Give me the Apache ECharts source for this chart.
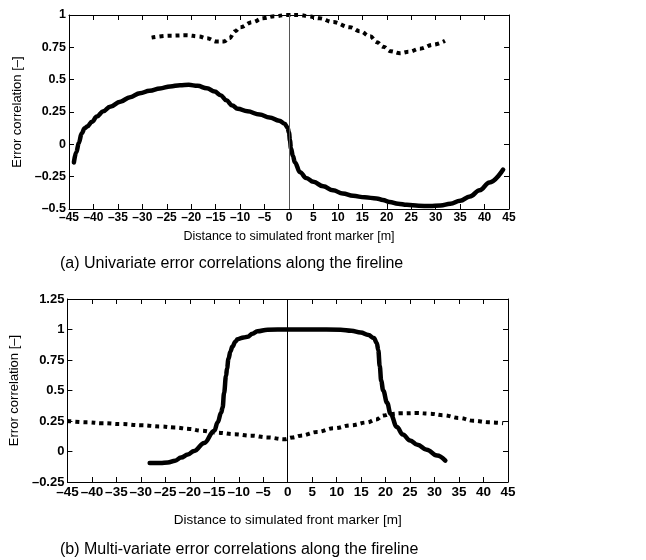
<!DOCTYPE html>
<html>
<head>
<meta charset="utf-8">
<script src="https://cdn.jsdelivr.net/npm/echarts@6/dist/echarts.min.js"></script>
<style>
html,body{margin:0;padding:0;background:#fff;}
#c{width:646px;height:560px;}
</style>
</head>
<body>
<div id="c"></div>
<script>
// ---- Data ----
var xTicksMin = -45, xTicksMax = 45, xTickStep = 5;
var yTopMin = -0.5, yTopMax = 1, yTopStep = 0.25;
var yBotMin = -0.25, yBotMax = 1.25, yBotStep = 0.25;

var captionA = '(a) Univariate error correlations along the fireline';
var captionB = '(b) Multi-variate error correlations along the fireline';
var xName = 'Distance to simulated front marker [m]';
var yName = 'Error correlation [\u2013]';

// (a) solid curve
var uniSolid = [[-44,-0.14],[-43.5,-0.06],[-43,0.01],[-42.4,0.085],[-41.8,0.125],[-41.2,0.14],[-40.3,0.175],[-39.3,0.215],[-38,0.255],[-36.6,0.29],[-34.5,0.33],[-32.5,0.365],[-30.5,0.395],[-28.5,0.415],[-26.4,0.432],[-24.3,0.448],[-22.3,0.457],[-20.5,0.46],[-18.7,0.452],[-16.8,0.433],[-15.2,0.408],[-14,0.38],[-12.8,0.34],[-11.6,0.3],[-10.5,0.275],[-8.5,0.255],[-6,0.23],[-4,0.208],[-2,0.183],[-0.9,0.16],[-0.3,0.13],[0,0.09],[0.2,0.03],[0.4,-0.03],[0.8,-0.09],[1.2,-0.14],[2.25,-0.215],[3.5,-0.26],[5,-0.29],[7,-0.325],[9,-0.355],[11,-0.38],[13.1,-0.398],[15.5,-0.41],[17.9,-0.418],[19.2,-0.43],[20.6,-0.445],[22.3,-0.459],[24.1,-0.468],[26.5,-0.475],[28.8,-0.477],[31,-0.472],[33,-0.46],[35,-0.437],[37,-0.403],[39,-0.355],[41,-0.295],[43.8,-0.195]];
// (a) dotted curve
var uniDotted = [[-28.1,0.825],[-24.5,0.84],[-20.9,0.843],[-18.5,0.835],[-16.8,0.82],[-14.8,0.795],[-13.3,0.795],[-12.2,0.82],[-11,0.875],[-10,0.905],[-7.5,0.945],[-5.3,0.975],[-3,0.99],[-0.5,1.0],[2.25,1.0],[4,0.99],[6.3,0.974],[9,0.945],[12.5,0.905],[14.5,0.875],[16.6,0.835],[18,0.79],[19.3,0.755],[20.8,0.72],[22.7,0.705],[24.5,0.715],[26.8,0.74],[29.5,0.77],[31.9,0.80]];
// (b) solid curve
var multiSolid = [[-28.2,-0.095],[-26,-0.095],[-24.5,-0.09],[-23,-0.075],[-21.8,-0.05],[-20.4,-0.025],[-19.1,0.005],[-17.05,0.07],[-15,0.17],[-14.3,0.24],[-13.6,0.32],[-13.3,0.36],[-13,0.48],[-12.6,0.62],[-12.4,0.68],[-12.1,0.76],[-11.7,0.82],[-11.3,0.86],[-10.7,0.9],[-10.25,0.92],[-9,0.935],[-8.2,0.94],[-7.2,0.965],[-6.2,0.985],[-4.1,0.998],[0,1.0],[5,1.0],[10.8,0.998],[13,0.99],[14.9,0.975],[16.5,0.955],[17.6,0.93],[18.2,0.89],[18.5,0.83],[18.8,0.70],[19.1,0.58],[19.5,0.5],[20.3,0.40],[21,0.31],[22.3,0.2],[23.5,0.14],[25,0.09],[26.5,0.055],[28.4,0.015],[30.5,-0.033],[32.2,-0.075]];
// (b) dotted curve
var multiDotted = [[-45,0.25],[-41,0.24],[-38,0.232],[-34,0.225],[-29.9,0.215],[-26,0.205],[-23.2,0.197],[-20,0.185],[-17.7,0.17],[-14.5,0.155],[-10.9,0.142],[-7.5,0.13],[-4.1,0.115],[-0.75,0.10],[1,0.115],[2.65,0.13],[6,0.16],[9.4,0.19],[13,0.215],[16.2,0.238],[18,0.262],[19.6,0.295],[21,0.308],[23,0.313],[26.4,0.315],[29,0.31],[31.8,0.298],[35,0.275],[37.9,0.252],[41,0.24],[44,0.232]];

// ---- Chart ----
var FF = 'Liberation Sans, Arial, Helvetica, sans-serif';
function fmt(v){ return String(v).replace('-', '\u2013'); }

function xAx(grid, pos, showLabel, fs){
  return {
    type:'value', gridIndex:grid, position:pos, min:xTicksMin, max:xTicksMax, interval:xTickStep,
    axisLine:{show:true, onZero:false, lineStyle:{color:'#000', width:1}},
    axisTick:{show:true, inside:true, length:5, lineStyle:{color:'#000', width:1}},
    splitLine:{show:false},
    axisLabel:{show:showLabel, color:'#000', fontFamily:FF, fontWeight:'bold', fontSize:fs, margin:3, formatter:fmt, showMinLabel:true, showMaxLabel:true},
    name: showLabel ? xName : '',
    nameLocation:'middle', nameGap: grid===0 ? 21 : 31,
    nameTextStyle:{color:'#000', fontFamily:FF, fontSize: grid===0 ? 12.5 : 13.5}
  };
}
function yAx(grid, pos, showLabel, mn, mx, st, fs){
  return {
    type:'value', gridIndex:grid, position:pos, min:mn, max:mx, interval:st,
    axisLine:{show:true, onZero:false, lineStyle:{color:'#000', width:1}},
    axisTick:{show:true, inside:true, length:5, lineStyle:{color:'#000', width:1}},
    splitLine:{show:false},
    axisLabel:{show:showLabel, color:'#000', fontFamily:FF, fontWeight:'bold', fontSize:fs, margin:3, formatter:fmt, showMinLabel:true, showMaxLabel:true},
    name: showLabel ? yName : '',
    nameLocation:'middle', nameGap:42, nameRotate:90,
    nameTextStyle:{color:'#000', fontFamily:FF, fontSize:13}
  };
}

var solidStyle = {color:'#000', width:4.5, cap:'round', join:'round'};
var dotStyle = {color:'#000', width:4, type:[4,4], cap:'butt'};

var option = {
  backgroundColor:'#fff',
  animation:false,
  title:[
    {text:captionA, left:55, top:251, textStyle:{color:'#000', fontFamily:FF, fontSize:16, fontWeight:'normal'}},
    {text:captionB, left:55, top:537, textStyle:{color:'#000', fontFamily:FF, fontSize:16, fontWeight:'normal'}}
  ],
  grid:[
    {left:69, top:15, width:440, height:194},
    {left:66, top:299, width:442, height:183}
  ],
  xAxis:[ xAx(0,'bottom',true,12), xAx(0,'top',false,12), xAx(1,'bottom',true,13.5), xAx(1,'top',false,13.5) ],
  yAxis:[ yAx(0,'left',true,yTopMin,yTopMax,yTopStep,12.5), yAx(0,'right',false,yTopMin,yTopMax,yTopStep,12.5),
          yAx(1,'left',true,yBotMin,yBotMax,yBotStep,13), yAx(1,'right',false,yBotMin,yBotMax,yBotStep,13) ],
  series:[
    {type:'line', xAxisIndex:0, yAxisIndex:0, data:uniSolid, showSymbol:false, smooth:0.4, smoothMonotone:'x', lineStyle:solidStyle, z:3,
     markLine:{silent:true, symbol:['none','none'], label:{show:false}, lineStyle:{color:'#555', width:1, type:'solid'}, data:[{xAxis:0}]}},
    {type:'line', xAxisIndex:0, yAxisIndex:0, data:uniDotted, showSymbol:false, smooth:0.4, smoothMonotone:'x', lineStyle:dotStyle, z:3},
    {type:'line', xAxisIndex:2, yAxisIndex:2, data:multiSolid, showSymbol:false, smooth:0.4, smoothMonotone:'x', lineStyle:solidStyle, z:3,
     markLine:{silent:true, symbol:['none','none'], label:{show:false}, lineStyle:{color:'#000', width:1, type:'solid'}, data:[{xAxis:0}]}},
    {type:'line', xAxisIndex:2, yAxisIndex:2, data:multiDotted, showSymbol:false, smooth:0.4, smoothMonotone:'x', lineStyle:dotStyle, z:3}
  ]
};
var chart = echarts.init(document.getElementById('c'), null, {renderer:'canvas'});
chart.setOption(option);
</script>
</body>
</html>
